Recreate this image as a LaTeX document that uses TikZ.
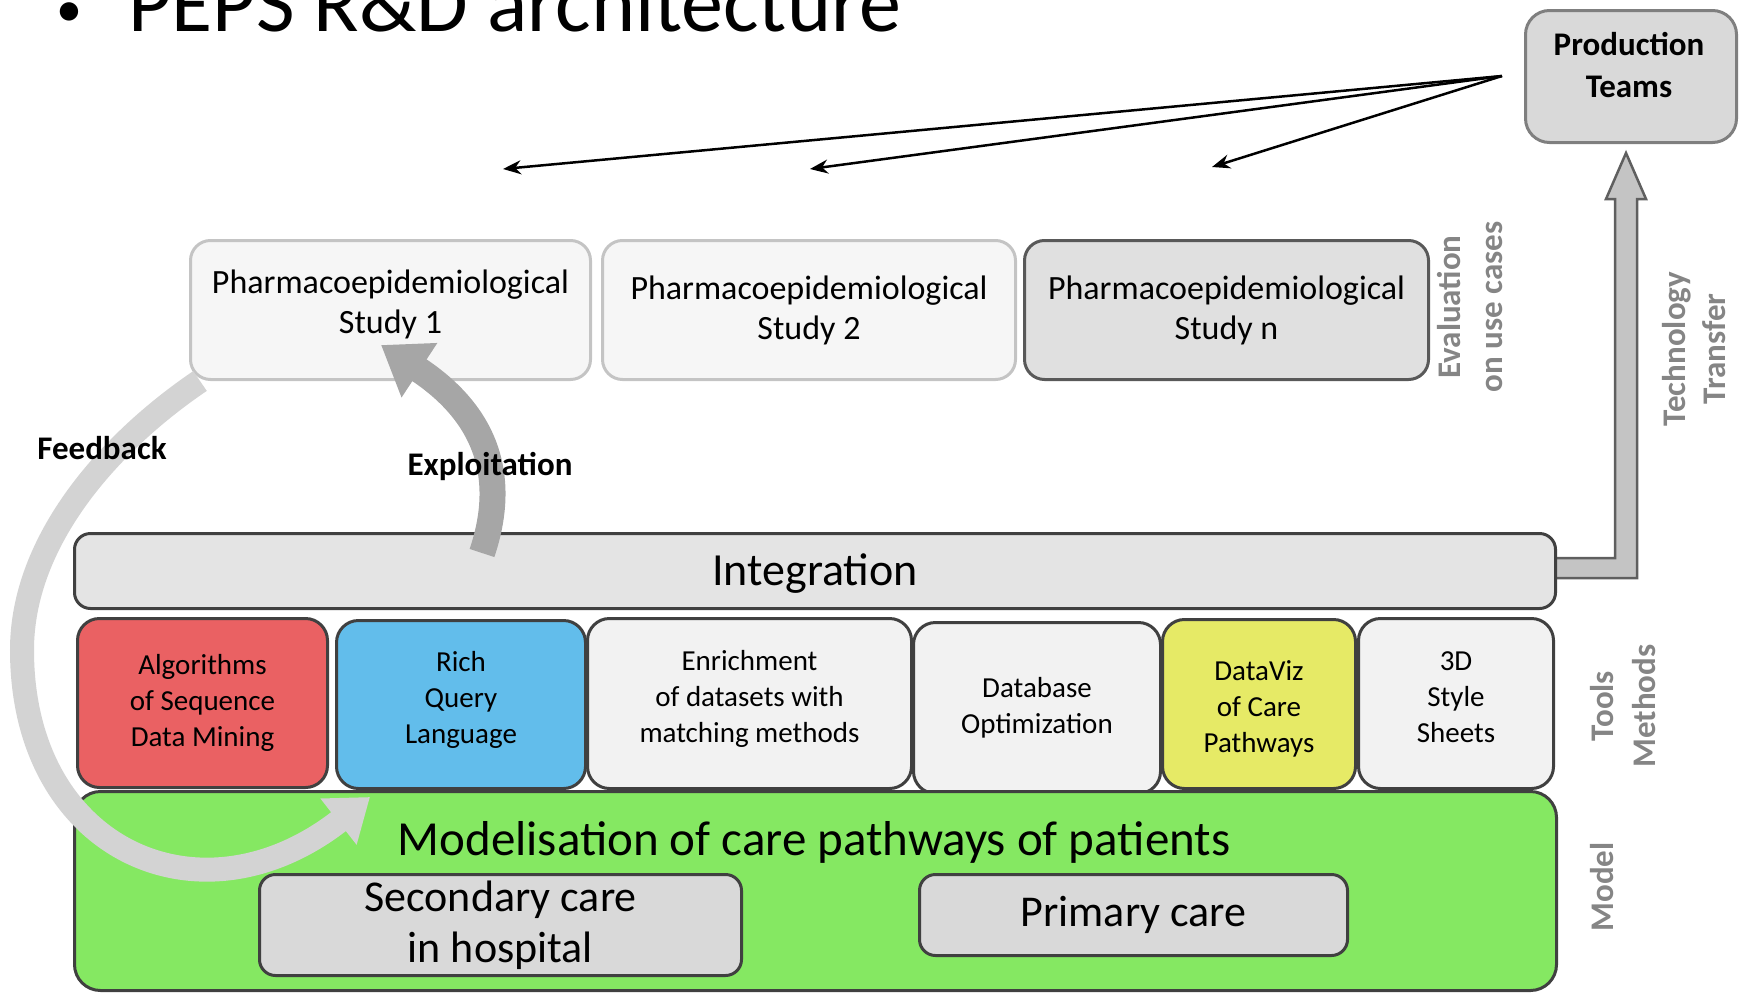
\documentclass[tikz,border=0pt]{standalone}
\usepackage{fontspec}
\setmainfont{Carlito}
\usetikzlibrary{arrows.meta}
\definecolor{cRed}{HTML}{EA6163}
\definecolor{cBlue}{HTML}{62BDEB}
\definecolor{cYel}{HTML}{E6EA66}
\definecolor{cGreen}{HTML}{85E862}
\definecolor{cLight}{HTML}{F2F2F2}
\definecolor{cInt}{HTML}{E4E4E4}
\definecolor{cMid}{HTML}{D9D9D9}
\definecolor{cBord}{HTML}{404040}
\definecolor{cStudyB}{HTML}{C4C4C4}
\definecolor{cStudyF}{HTML}{F6F6F6}
\definecolor{cStudyNF}{HTML}{E0E0E0}
\definecolor{cStudyNB}{HTML}{595959}
\definecolor{cProdB}{HTML}{7F7F7F}
\definecolor{cLab}{HTML}{858585}
\definecolor{cFeed}{HTML}{D3D3D3}
\definecolor{cExpl}{HTML}{A6A6A6}
\definecolor{cTT}{HTML}{C4C4C4}
\definecolor{cTTb}{HTML}{5F5F5F}
\newcommand{\shiftlines}[2]{\raisebox{#1}[\height][\depth]{\begin{tabular}{@{}c@{}}#2\end{tabular}}}
\begin{document}
\begin{tikzpicture}[x=1pt,y=-1pt,
  box/.style={draw=cBord, rounded corners=22pt, line width=3pt, inner sep=0pt, align=center, anchor=north west},
  toolbox/.style={box, font=\fontsize{29}{36}\selectfont},
  studybox/.style={box, rounded corners=20pt, font=\fontsize{34}{40}\selectfont},
  carebox/.style={box, fill=cMid, rounded corners=16pt, font=\fontsize{44}{51}\selectfont},
  sidelab/.style={font=\bfseries\fontsize{33}{42}\selectfont, text=cLab, align=center, rotate=90, inner sep=0pt},
  boldlab/.style={font=\bfseries\fontsize{33}{40}\selectfont, inner sep=0pt},
  thinarrow/.style={line width=2.5pt, -{Stealth[length=18pt 0, width=14pt 0]}}
]
\useasboundingbox (0,0) rectangle (1744,993);
\clip (0,0) rectangle (1744,993);

% title
\node[anchor=base, font=\fontsize{52}{60}\selectfont, inner sep=0pt] (bullet) at (69,26) {•};
\node[anchor=base west, font=\fontsize{84}{100}\selectfont, inner sep=0pt] (title) at (128,31) {PEPS R\&D architecture};

% technology transfer arrow (behind integration)
\filldraw[fill=cTT, draw=cTTb, line width=2.5pt]
  (1548,558) -- (1615,558) -- (1615,199) -- (1606,199) -- (1626,153) -- (1646,199) -- (1637,199) -- (1637,578) -- (1548,578) -- cycle;

% production teams
\node[box, draw=cProdB, fill=cMid, rounded corners=24pt, minimum width=211pt, minimum height=132pt] (prod) at (1524,9) {};
\node[boldlab, align=center, font=\bfseries\fontsize{33}{42}\selectfont] (prodtext) at (1629,65) {Production\\Teams};

% studies
\node[studybox, draw=cStudyB, fill=cStudyF, minimum width=400pt, minimum height=139pt] (s1) at (189,239) {\shiftlines{5pt}{Pharmacoepidemiological\\Study 1}};
\node[studybox, draw=cStudyB, fill=cStudyF, minimum width=413pt, minimum height=139pt] (s2) at (601,239) {Pharmacoepidemiological\\Study 2};
\node[studybox, draw=cStudyNB, fill=cStudyNF, minimum width=404pt, minimum height=139pt] (sn) at (1023,239) {Pharmacoepidemiological\\Study n};

% integration
\node[box, fill=cInt, rounded corners=16pt, minimum width=1481pt, minimum height=75pt, font=\fontsize{46}{50}\selectfont] (integ) at (73,532) {\raisebox{-3pt}[\height][\depth]{Integration}};

% tools
\node[toolbox, fill=cRed, minimum width=250pt, minimum height=169pt] (algo) at (76,617) {Algorithms\\of Sequence\\Data Mining};
\node[toolbox, fill=cBlue, minimum width=249pt, minimum height=168pt] (rich) at (335,619) {\shiftlines{4pt}{Rich\\Query\\Language}};
\node[toolbox, fill=cLight, minimum width=324pt, minimum height=170pt] (enrich) at (586,617) {\shiftlines{4pt}{Enrichment\\of datasets with\\matching methods}};
\node[toolbox, fill=cLight, minimum width=247pt, minimum height=171pt] (dbopt) at (912,621) {Database\\Optimization};
\node[toolbox, fill=cYel, minimum width=193pt, minimum height=169pt] (dataviz) at (1161,618) {\shiftlines{-5pt}{DataViz\\of Care\\Pathways}};
\node[toolbox, fill=cLight, minimum width=195pt, minimum height=170pt] (styles) at (1357,617) {\shiftlines{4pt}{3D\\Style\\Sheets}};

% model
\node[box, fill=cGreen, rounded corners=26pt, minimum width=1482pt, minimum height=199pt] (model) at (73,790) {};
\node[font=\fontsize{49}{52}\selectfont, inner sep=0pt] (modeltitle) at (814,842) {Modelisation of care pathways of patients};
\node[carebox, minimum width=482pt, minimum height=101pt] (secondary) at (258,873) {Secondary care\\in hospital};
\node[carebox, minimum width=428pt, minimum height=81pt] (primary) at (918,873) {Primary care};

% feedback arrow
\coordinate (fbstart) at (200,381);
\coordinate (fbend) at (370,797);
\draw[line width=24pt, draw=cFeed, -{Triangle[length=40pt 0, width=56pt 0]}]
  (fbstart) .. controls (110,442) and (22,540) .. (22,650) .. controls (22,850) and (200,930) .. (fbend);

% exploitation arrow
\coordinate (exstart) at (482,553);
\coordinate (exend) at (381,345);
\draw[line width=26pt, draw=cExpl, -{Triangle[length=46pt 0, width=62pt 0]}]
  (exstart) .. controls (510,470) and (480,410) .. (exend);

% labels
\node[boldlab] (feedback) at (102,448) {Feedback};
\node[boldlab] (exploit) at (490,466) {Exploitation};
\node[sidelab] (evallab) at (1470,307) {Evaluation\\on use cases};
\node[sidelab, font=\bfseries\fontsize{33}{40}\selectfont] (techlab) at (1694,349) {Technology\\Transfer};
\node[sidelab] (toolslab) at (1623,706) {Tools\\Methods};
\node[sidelab] (modellab) at (1602,887) {Model};

% production team arrows
\coordinate (src) at (1502,76);
\coordinate (t1) at (503,169);
\coordinate (t2) at (810,169);
\coordinate (t3) at (1212,167);
\draw[thinarrow] (src) -- (t1);
\draw[thinarrow] (src) -- (t2);
\draw[thinarrow] (src) -- (t3);
\end{tikzpicture}
\end{document}
